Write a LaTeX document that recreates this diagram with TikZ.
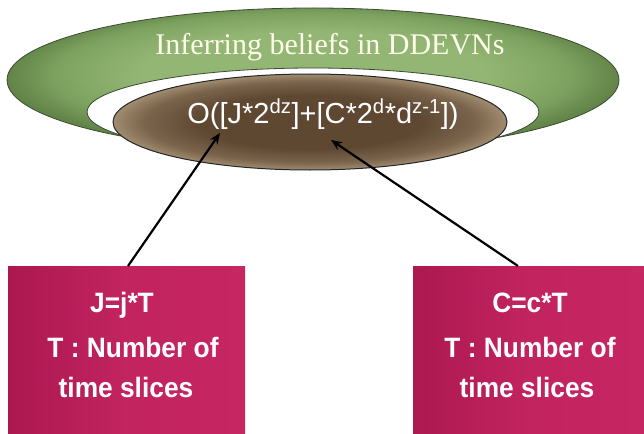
\documentclass[tikz,border=0pt]{standalone}
\usepackage{fontspec}
\setmainfont{Liberation Sans}
\newfontfamily\titlefont{Liberation Serif}
\newfontfamily\boxfont[FakeStretch=0.94]{Liberation Sans Bold}
\usetikzlibrary{arrows.meta,shadings}
\definecolor{grnlight}{RGB}{148,182,116}
\definecolor{grnmid}{RGB}{125,162,96}
\definecolor{grndark}{RGB}{98,132,72}
\definecolor{grnline}{RGB}{60,75,50}
\definecolor{brnlight}{RGB}{160,140,112}
\definecolor{brnmid}{RGB}{122,100,76}
\definecolor{brndark}{RGB}{94,72,50}
\definecolor{boxa}{RGB}{172,24,80}
\definecolor{boxb}{RGB}{198,38,98}
\pgfdeclareradialshading{ringshade}{\pgfpoint{0bp}{4bp}}{color(0bp)=(grnlight); color(14bp)=(grnlight); color(21bp)=(grnmid); color(25bp)=(grndark); color(50bp)=(grndark)}
\pgfdeclareradialshading{brnshade}{\pgfpoint{0bp}{0bp}}{color(0bp)=(brndark); color(14bp)=(brndark); color(21bp)=(brnmid); color(25bp)=(brnlight); color(50bp)=(brnlight)}
\tikzset{
  ringfill/.style={even odd rule, shading=ringshade},
  ringline/.style={draw=grnline, line width=0.8pt},
  brownfill/.style={shading=brnshade, draw=black!85, line width=1pt},
  infobox/.style={rectangle, inner sep=0pt, left color=boxa, right color=boxb, middle color=boxb!85!boxa},
  boxtext/.style={text=white, font=\boxfont\fontsize{28}{34}\selectfont, anchor=base},
  titletext/.style={text=white!92!yellow, font=\titlefont\fontsize{30}{36}\selectfont, anchor=base},
  formtext/.style={text=white, font=\fontsize{29}{35}\selectfont, anchor=base},
  link/.style={-{Stealth[length=11pt,width=9pt]}, line width=2.2pt, black}
}
\begin{document}
\begin{tikzpicture}[x=1pt,y=-1pt]
\useasboundingbox (0,0) rectangle (644,433);
% green ring
\shade[ringfill] (313,80) ellipse [x radius=306pt, y radius=72pt]
                 (313,112) ellipse [x radius=226pt, y radius=44pt];
\draw[ringline] (313,80) ellipse [x radius=306pt, y radius=72pt];
\draw[ringline] (313,112) ellipse [x radius=226pt, y radius=44pt];
% brown ellipse
\path[brownfill] (310,122) ellipse [x radius=197pt, y radius=48pt];
% title and formula
\node[titletext] (title) at (330,55) {Inferring beliefs in DDEVNs};
\node[formtext] (form) at (323,123) {O([J*2\textsuperscript{dz}]+[C*2\textsuperscript{d}*d\textsuperscript{z-1}])};
% boxes
\node[infobox, minimum width=237pt, minimum height=168pt] (lbox) at (126.5,350) {};
\node[infobox, minimum width=231pt, minimum height=168pt] (rbox) at (528.5,350) {};
\node[boxtext] (lt1) at (122,312) {J=j*T};
\node[boxtext] (lt2) at (133,357) {T : Number of};
\node[boxtext] (lt3) at (126,397) {time slices};
\node[boxtext] (rt1) at (530,312) {C=c*T};
\node[boxtext] (rt2) at (530,357) {T : Number of};
\node[boxtext] (rt3) at (527,397) {time slices};
% arrows
\coordinate (lstart) at (128,266);
\coordinate (ltip) at (220,133);
\coordinate (rstart) at (518,266);
\coordinate (rtip) at (331,140);
\draw[link] (lstart) -- (ltip);
\draw[link] (rstart) -- (rtip);
\end{tikzpicture}
\end{document}
